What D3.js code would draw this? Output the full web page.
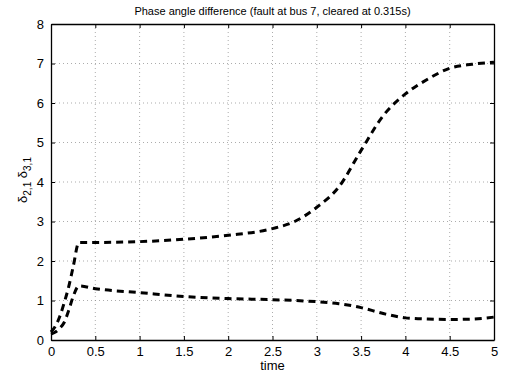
<html>
<head>
    <title>Phase angle difference</title>
    <script src="https://cdn.jsdelivr.net/npm/d3@7"></script>
    <style>
        body { margin: 0; background: #fff; }
        text { font-family: "Liberation Sans", Arial, sans-serif; fill: #000; }
    </style>
</head>
<body>
    <script>
        // values
        var time = [0, 0.05, 0.1, 0.15, 0.2, 0.25, 0.315, 0.5, 1, 1.5, 2, 2.5, 2.75, 3, 3.25, 3.5, 3.75, 4, 4.25, 4.5, 4.75, 5];
        var delta21 = [0.2, 0.35, 0.6, 0.95, 1.35, 1.85, 2.47, 2.47, 2.49, 2.55, 2.65, 2.82, 3.0, 3.36, 3.88, 4.8, 5.68, 6.23, 6.6, 6.88, 6.98, 7.03];
        var delta31 = [0.15, 0.2, 0.3, 0.45, 0.75, 1.1, 1.37, 1.3, 1.2, 1.1, 1.05, 1.02, 1.0, 0.97, 0.92, 0.82, 0.67, 0.56, 0.53, 0.52, 0.53, 0.58];
        var xTicks = [0, 0.5, 1, 1.5, 2, 2.5, 3, 3.5, 4, 4.5, 5];
        var yTicks = [0, 1, 2, 3, 4, 5, 6, 7, 8];

        var width = 511, height = 375;
        var pLeft = 51, pRight = 494, pTop = 24, pBottom = 340; // plot box

        var svg = d3.select("body").append("svg").attr("width", width).attr("height", height);
        var x = d3.scaleLinear().domain([0, 5]).range([pLeft, pRight]);
        var y = d3.scaleLinear().domain([0, 8]).range([pBottom, pTop]);

        // dotted grid
        svg.append("g").selectAll("line").data(xTicks.slice(1, -1)).enter().append("line")
            .attr("x1", d => x(d)).attr("x2", d => x(d))
            .attr("y1", pTop).attr("y2", pBottom)
            .attr("stroke", "#888").attr("stroke-width", 0.7).attr("stroke-dasharray", "1,3");
        svg.append("g").selectAll("line").data(yTicks.slice(1, -1)).enter().append("line")
            .attr("x1", pLeft).attr("x2", pRight)
            .attr("y1", d => y(d)).attr("y2", d => y(d))
            .attr("stroke", "#888").attr("stroke-width", 0.7).attr("stroke-dasharray", "1,3");

        // axes with inward ticks on all sides
        var ax = svg.append("g");
        ax.append("g").attr("transform", "translate(0," + pBottom + ")")
            .call(d3.axisBottom(x).tickValues(xTicks).tickSizeInner(-4).tickSizeOuter(0).tickPadding(7).tickFormat(d3.format("")));
        ax.append("g").attr("transform", "translate(0," + pTop + ")")
            .call(d3.axisTop(x).tickValues(xTicks).tickSizeInner(-4).tickSizeOuter(0).tickFormat(""));
        ax.append("g").attr("transform", "translate(" + pLeft + ",0)")
            .call(d3.axisLeft(y).tickValues(yTicks).tickSizeInner(-4).tickSizeOuter(0).tickPadding(7));
        ax.append("g").attr("transform", "translate(" + pRight + ",0)")
            .call(d3.axisRight(y).tickValues(yTicks).tickSizeInner(-4).tickSizeOuter(0).tickFormat(""));
        ax.selectAll(".domain").attr("stroke", "#000").attr("stroke-width", 1.3);
        ax.selectAll(".tick line").attr("stroke", "#000");
        ax.selectAll(".tick text").attr("font-size", "13px").attr("font-family", "Liberation Sans, Arial, sans-serif");

        // curves
        var line = d3.line().x((d, i) => x(time[i])).y(d => y(d)).curve(d3.curveMonotoneX);
        [delta21, delta31].forEach(function (s) {
            svg.append("path").datum(s).attr("d", line)
                .attr("fill", "none").attr("stroke", "#000")
                .attr("stroke-width", 3).attr("stroke-dasharray", "7,5");
        });

        // labels
        svg.append("text").attr("x", (pLeft + pRight) / 2).attr("y", 15)
            .attr("text-anchor", "middle").attr("font-size", "11px")
            .text("Phase angle difference (fault at bus 7, cleared at 0.315s)");
        svg.append("text").attr("x", (pLeft + pRight) / 2).attr("y", 370)
            .attr("text-anchor", "middle").attr("font-size", "13px").text("time");

        var yl = svg.append("text").attr("transform", "translate(27,180) rotate(-90)")
            .attr("text-anchor", "middle").attr("font-size", "13px");
        yl.append("tspan").text("δ");
        yl.append("tspan").attr("font-size", "10px").attr("dy", 4).text("2,1");
        yl.append("tspan").attr("dy", -4).text(" δ");
        yl.append("tspan").attr("font-size", "10px").attr("dy", 4).text("3,1");
    </script>
</body>
</html>
